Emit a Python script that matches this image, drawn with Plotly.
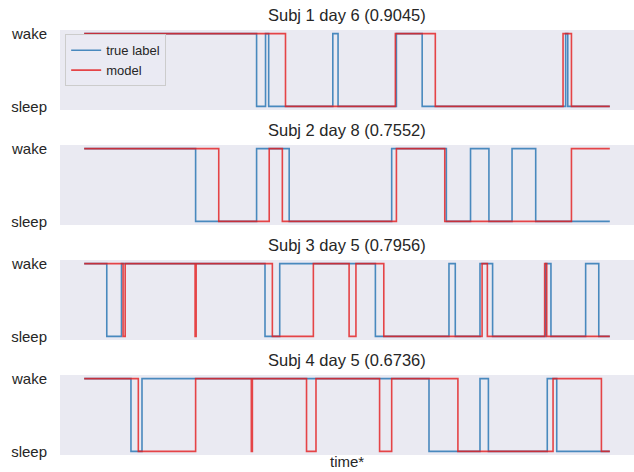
import plotly.graph_objects as go
from plotly.subplots import make_subplots

# ---- data (time in epochs, 0..1000; state: 1 = wake, 0 = sleep) ----
subjects = [1, 2, 3, 4]
days = [6, 8, 5, 5]
scores = [0.9045, 0.7552, 0.7956, 0.6736]

t_start = 0
t_end = 1000
start_state = 1  # every series starts awake

true_changes_1 = [328, 345, 351, 473, 483, 594, 643, 916, 920]
model_changes_1 = [383, 592, 668, 911, 927]

true_changes_2 = [212, 328, 390, 585, 689, 735, 770, 814, 859]
model_changes_2 = [256, 352, 377, 594, 686, 927]

true_changes_3 = [43, 71, 344, 372, 554, 694, 706, 753, 777, 878, 888, 954, 979]
model_changes_3 = [74, 78, 211, 213, 358, 436, 504, 517, 570, 757, 767, 876, 880]

true_changes_4 = [89, 110, 656, 753, 769, 881, 899]
model_changes_4 = [103, 212, 318, 320, 423, 441, 562, 585, 711, 892, 984]

true_changes = [true_changes_1, true_changes_2, true_changes_3, true_changes_4]
model_changes = [model_changes_1, model_changes_2, model_changes_3, model_changes_4]

y_tick_vals = [0, 1]
y_tick_text = ["sleep", "wake"]


def step_series(changes, start=start_state):
    xs = [t_start]
    ys = [start]
    s = start
    for c in changes:
        s = 1 - s
        xs.append(c)
        ys.append(s)
    xs.append(t_end)
    ys.append(s)
    return xs, ys


BG = "#EAEAF2"
BLUE = "rgba(55,126,184,0.9)"
RED = "rgba(228,26,28,0.8)"
FONT = "Liberation Sans, Arial, sans-serif"
TXT = "#262626"

titles = [f"Subj {s} day {d} ({sc:.4f})" for s, d, sc in zip(subjects, days, scores)]

fig = make_subplots(rows=4, cols=1, shared_xaxes=True,
                    vertical_spacing=35 / 425, subplot_titles=titles)

for i in range(4):
    xt, yt = step_series(true_changes[i])
    xm, ym = step_series(model_changes[i])
    fig.add_trace(go.Scatter(x=xt, y=yt, mode="lines", line_shape="hv",
                             line=dict(color=BLUE, width=1.6),
                             name="true label", showlegend=(i == 0)),
                  row=i + 1, col=1)
    fig.add_trace(go.Scatter(x=xm, y=ym, mode="lines", line_shape="hv",
                             line=dict(color=RED, width=1.6),
                             name="model", showlegend=(i == 0)),
                  row=i + 1, col=1)
    fig.update_yaxes(row=i + 1, col=1, range=[-0.05, 1.05],
                     tickvals=y_tick_vals, ticktext=y_tick_text,
                     showgrid=False, zeroline=False, showline=False,
                     ticks="", ticklabelstandoff=12, automargin=False,
                     tickfont=dict(size=15, color=TXT, family=FONT))
    fig.update_xaxes(row=i + 1, col=1, range=[-46, 1046],
                     showticklabels=False, showgrid=False, zeroline=False,
                     showline=False, ticks="", automargin=False)

for ann in fig.layout.annotations:
    ann.font = dict(size=16.5, color=TXT, family=FONT)
    ann.yshift = 4

fig.add_annotation(text="time*", xref="paper", yref="paper", x=0.5, y=-17 / 425,
                   xanchor="center", yanchor="bottom", yshift=0, showarrow=False,
                   font=dict(size=15, color=TXT, family=FONT))

fig.update_layout(
    width=634, height=472,
    margin=dict(l=60, r=0, t=30, b=17, autoexpand=False),
    paper_bgcolor="white", plot_bgcolor=BG,
    font=dict(family=FONT, color=TXT),
    legend=dict(x=0.009, y=0.99, xanchor="left", yanchor="top",
                bgcolor="rgba(234,234,242,0.8)", bordercolor="#CCCCCC",
                borderwidth=1, font=dict(size=13, color=TXT, family=FONT),
                tracegroupgap=0, itemwidth=30),
)

fig.write_html("out.html",
               config={"displayModeBar": False},
               post_script="document.body.style.margin='0';"
                           "document.body.style.overflow='hidden';")
